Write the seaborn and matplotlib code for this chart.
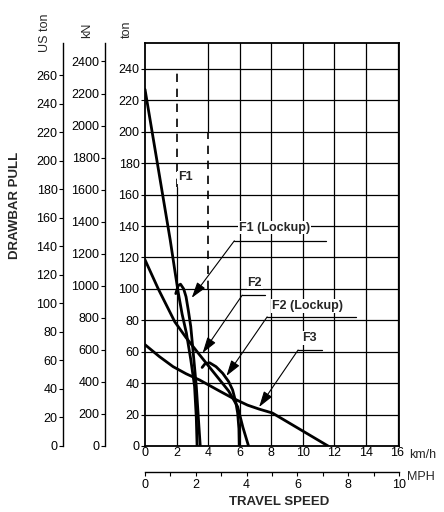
import numpy as np
import seaborn as sns
import matplotlib.pyplot as plt

sns.set_theme(style="white")
plt.rcParams['font.family'] = ['Liberation Sans', 'DejaVu Sans']

# curves (km/h, ton)
f1_speed = [0, 1.0, 1.6, 1.9, 2.1, 2.35, 2.62, 2.9, 3.14, 3.25, 3.3]
f1_pull = [227, 167, 131, 111, 98, 84, 72, 55, 38, 18, 0]
f1_lock_speed = [1.95, 2.1, 2.25, 2.45, 2.6, 2.75, 2.9, 3.05, 3.25, 3.4, 3.5]
f1_lock_pull = [97, 102, 103, 100, 95, 86, 76, 60, 38, 15, 0]
f2_speed = [0, 0.84, 1.89, 2.6, 3.46, 4.5, 5.3, 5.87, 6.2, 6.56]
f2_pull = [118.5, 100, 79, 69, 58, 45, 35, 25, 12, 0]
f2_lock_speed = [3.62, 3.8, 4.09, 4.5, 4.92, 5.3, 5.55, 5.75, 5.87, 5.95, 5.97]
f2_lock_pull = [50, 52.3, 53, 50.5, 46.3, 41, 35.7, 28, 21, 11, 0]
f3_speed = [0, 0.9, 1.78, 2.6, 3.46, 4.72, 5.55, 6.5, 7.23, 8.07, 9.5, 11.6]
f3_pull = [64.5, 57, 50.5, 46, 42, 35, 30.5, 26, 23.5, 21, 12.5, 0]

curves = [(f1_speed, f1_pull), (f1_lock_speed, f1_lock_pull),
          (f2_speed, f2_pull), (f2_lock_speed, f2_lock_pull),
          (f3_speed, f3_pull)]

# labels: text, text pos, underline x range, arrow tip
labels = ["F1 (Lockup)", "F2", "F2 (Lockup)", "F3"]
label_pos = [(5.97, 139), (6.48, 104), (8.05, 89), (9.94, 68.8)]
underline_x = [(5.66, 11.45), (6.16, 7.6), (7.74, 13.4), (9.7, 11.2)]
underline_y = [130.6, 96, 82.2, 61.1]
arrow_tips = [(2.96, 94.3), (3.65, 59.2), (5.16, 44.6), (7.23, 24.8)]

TON_TO_KN = 9.80665
TON_TO_USTON = 1.10231
KMH_TO_MPH = 1 / 1.609344

fig = plt.figure(figsize=(4.44, 5.12), dpi=100)
ax = fig.add_axes([145 / 444, 1 - 446 / 512, 254 / 444, 403 / 512])
ax.set_xlim(0, 10 / KMH_TO_MPH)
ax.set_ylim(0, 256.5)

# grid
for y in range(20, 241, 20):
    ax.axhline(y, color='black', lw=0.9, zorder=1)
for x in range(2, 17, 2):
    if x == 2:
        ax.axvline(x, ymax=165 / 256.5, color='black', lw=0.9, zorder=1)
        ax.axvline(x, ymin=165 / 256.5, ymax=240 / 256.5, color='black', lw=1.2,
                   ls=(0, (5, 4)), zorder=1)
    elif x == 4:
        ax.axvline(x, ymax=100 / 256.5, color='black', lw=0.9, zorder=1)
        ax.axvline(x, ymin=100 / 256.5, ymax=200 / 256.5, color='black', lw=1.2,
                   ls=(0, (5, 4)), zorder=1)
        ax.axvline(x, ymin=200 / 256.5, color='black', lw=0.9, zorder=1)
    else:
        ax.axvline(x, color='black', lw=0.9, zorder=1)

for xs, ys in curves:
    sns.lineplot(x=xs, y=ys, ax=ax, color='black', lw=2.0, sort=False,
                 estimator=None, zorder=4)

ax.text(2.08, 171, "F1", fontsize=9, fontweight='bold', va='center', ha='left',
        zorder=5, bbox=dict(facecolor='white', edgecolor='none', pad=0.5))
for lab, (tx, ty), (ux0, ux1), uy, tip in zip(labels, label_pos, underline_x,
                                               underline_y, arrow_tips):
    ax.text(tx, ty, lab, fontsize=9, fontweight='bold', va='center', ha='left',
            zorder=5, bbox=dict(facecolor='white', edgecolor='none', pad=0.5))
    ax.plot([ux0, ux1], [uy, uy], color='black', lw=0.9, zorder=5)
    ax.annotate("", xy=tip, xytext=(ux0, uy), zorder=5,
                arrowprops=dict(arrowstyle='-|>,head_length=0.8,head_width=0.25',
                                color='black', lw=0.8, shrinkA=0, shrinkB=0))

for s in ax.spines.values():
    s.set_color('black')
    s.set_linewidth(1.3)

# ton axis
ax.set_yticks(range(0, 241, 20))
ax.set_xticks(range(0, 17, 2))
ax.tick_params(axis='y', left=True, length=3, width=0.8, pad=1, labelsize=9,
               color='black', labelcolor='black')
ax.tick_params(axis='x', bottom=False, length=0, pad=1, labelsize=9,
               labelcolor='black')
ax.set_xlabel("")
ax.set_ylabel("")

# kN and US ton axes
kn = ax.secondary_yaxis(-40 / 254, functions=(lambda t: t * TON_TO_KN,
                                               lambda k: k / TON_TO_KN))
kn.set_yticks(range(0, 2401, 200))
uston = ax.secondary_yaxis(-82 / 254, functions=(lambda t: t * TON_TO_USTON,
                                                  lambda u: u / TON_TO_USTON))
uston.set_yticks(range(0, 261, 20))
for sec in (kn, uston):
    sec.spines['left'].set_color('black')
    sec.spines['left'].set_linewidth(1.0)
    sec.tick_params(axis='y', length=3, width=0.8, pad=1, labelsize=9,
                    color='black', labelcolor='black')

# MPH axis
mph = ax.secondary_xaxis(-26 / 403, functions=(lambda k: k * KMH_TO_MPH,
                                               lambda m: m / KMH_TO_MPH))
mph.set_xticks(range(0, 11, 2))
mph.set_xticks(range(1, 10, 2), minor=True)
mph.spines['bottom'].set_color('black')
mph.spines['bottom'].set_linewidth(1.0)
mph.tick_params(axis='x', which='both', length=3, width=0.8, pad=2,
                labelsize=9, color='black', labelcolor='black')

fig.text(409 / 444, 1 - 455 / 512, "km/h", fontsize=9, ha='left', va='center')
fig.text(407 / 444, 1 - 477 / 512, "MPH", fontsize=9, ha='left', va='center')
fig.text(279 / 444, 1 - 502 / 512, "TRAVEL SPEED", fontsize=9.5,
         fontweight='bold', ha='center', va='center')
fig.text(15 / 444, 1 - 205 / 512, "DRAWBAR PULL", fontsize=9.5,
         fontweight='bold', ha='center', va='center', rotation=90)
fig.text(45 / 444, 1 - 52 / 512, "US ton", fontsize=9, ha='center',
         va='bottom', rotation=90)
fig.text(87 / 444, 1 - 38 / 512, "kN", fontsize=9, ha='center',
         va='bottom', rotation=90)
fig.text(127 / 444, 1 - 38 / 512, "ton", fontsize=9, ha='center',
         va='bottom', rotation=90)

fig.savefig("out.png", dpi=100, facecolor='white')
